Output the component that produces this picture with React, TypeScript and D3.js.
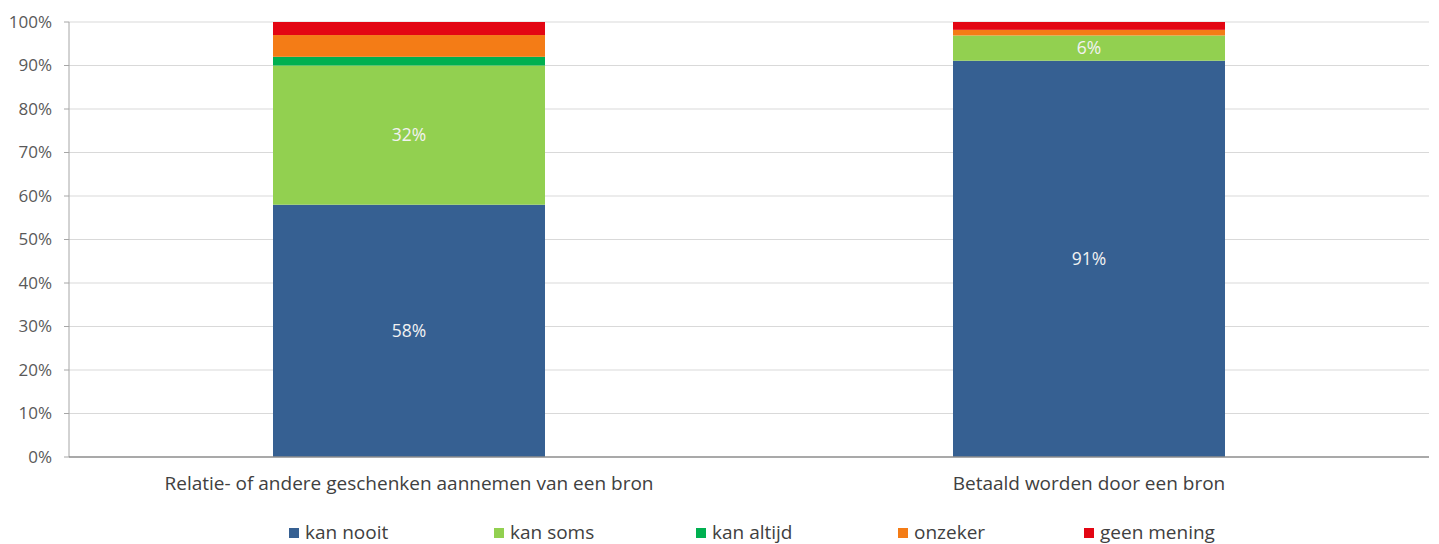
import React from "react";
import * as d3 from "d3";

const categories = [
  "Relatie- of andere geschenken aannemen van een bron",
  "Betaald worden door een bron",
];
const seriesNames = ["kan nooit", "kan soms", "kan altijd", "onzeker", "geen mening"];
const kanNooit = [58, 91.1];
const kanSoms = [32, 5.8];
const kanAltijd = [2, 0];
const onzeker = [5, 1.3];
const geenMening = [3, 1.8];
const labelShown = [true, true, false, false, false];
const colors = ["#366092", "#92d050", "#00b050", "#f47c16", "#e30613"];
const yTicks = [0, 10, 20, 30, 40, 50, 60, 70, 80, 90, 100];

const W = 1439;
const H = 544;
const M = { left: 69, right: 10, top: 22, bottom: 87 };
const FONT = "'Open Sans', sans-serif";

export default function App() {
  const values = [kanNooit, kanSoms, kanAltijd, onzeker, geenMening];
  const rows = categories.map((c, i) => {
    const r: any = { cat: c };
    seriesNames.forEach((s, j) => (r[s] = values[j][i]));
    return r;
  });
  const stacked = d3.stack().keys(seriesNames)(rows);
  const x = d3.scaleBand().domain(categories).range([M.left, W - M.right]).paddingInner(0.6).paddingOuter(0.3);
  const xc = d3.scaleBand().domain(categories).range([M.left, W - M.right]);
  const y = d3.scaleLinear().domain([0, 100]).range([H - M.bottom, M.top]);
  const legendX = [289, 494, 696, 898, 1084];

  return (
    <svg width={W} height={H} style={{ display: "block", position: "absolute", left: 0, top: 0 }} fontFamily={FONT}>
      <rect width={W} height={H} fill="#fff" />
      {yTicks.map((t) => (
        <g key={t}>
          {t > 0 && (
            <line x1={M.left} x2={W - M.right} y1={y(t)} y2={y(t)} stroke="#d9d9d9" strokeWidth={1} />
          )}
          <line x1={M.left - 5} x2={M.left} y1={y(t)} y2={y(t)} stroke="#a6a6a6" />
          <text x={52} y={y(t)} dy="0.35em" textAnchor="end" fontSize={17} fill="#595959">
            {t}%
          </text>
        </g>
      ))}
      {stacked.map((layer, j) =>
        layer.map((d, i) => {
          const h = y(d[0]) - y(d[1]);
          if (h <= 0) return null;
          return (
            <rect key={`${j}-${i}`} x={x(categories[i])} width={x.bandwidth()} y={y(d[1])} height={h} fill={colors[j]} />
          );
        })
      )}
      {stacked.map((layer, j) =>
        labelShown[j]
          ? layer.map((d, i) => (
              <text
                key={`l${j}-${i}`}
                x={x(categories[i])! + x.bandwidth() / 2}
                y={(y(d[0]) + y(d[1])) / 2}
                dy="0.35em"
                textAnchor="middle"
                fontSize={17.5}
                fill="#f2f2f2"
              >
                {Math.round(d[1] - d[0])}%
              </text>
            ))
          : null
      )}
      <line x1={M.left} x2={M.left} y1={y(100)} y2={y(0)} stroke="#a6a6a6" />
      <line x1={M.left} x2={W - M.right} y1={y(0)} y2={y(0)} stroke="#8c8c8c" strokeWidth={1.5} />
      {categories.map((c) => (
        <text key={c} x={xc(c)! + xc.bandwidth() / 2} y={490} textAnchor="middle" fontSize={19} fill="#404040">
          {c}
        </text>
      ))}
      {seriesNames.map((s, j) => (
        <g key={s} transform={`translate(${legendX[j]},0)`}>
          <rect x={0} y={528} width={10} height={10} fill={colors[j]} />
          <text x={16} y={539} fontSize={19} fill="#404040">
            {s}
          </text>
        </g>
      ))}
    </svg>
  );
}
